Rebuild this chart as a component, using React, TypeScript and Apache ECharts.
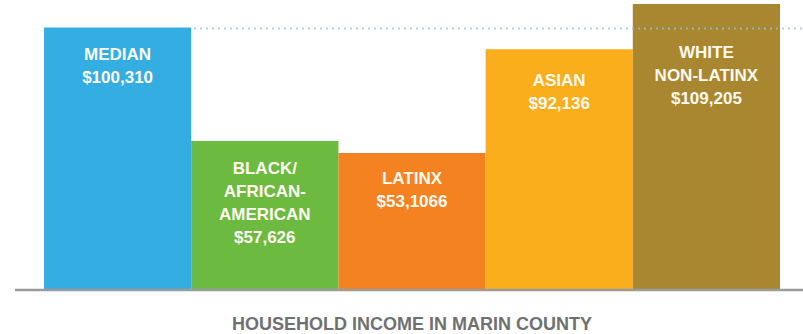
import React, { useEffect, useRef } from "react";
import * as echarts from "echarts";

const categories = ["MEDIAN", "BLACK/\nAFRICAN-\nAMERICAN", "LATINX", "ASIAN", "WHITE\nNON-LATINX"];
const values = [100310, 57626, 53106, 92136, 109205];
const valueLabels = ["$100,310", "$57,626", "$53,1066", "$92,136", "$109,205"];
const colors = ["#34AEE2", "#6DBA40", "#F48220", "#FAAE1B", "#A88730"];
const labelDistances = [15, 16, 14, 20, 37];
const medianValue = 100310;
const chartTitle = "HOUSEHOLD INCOME IN MARIN COUNTY";
const yMin = 1500;
const yMax = 110700;

export default function App() {
  const ref = useRef<HTMLDivElement>(null);
  useEffect(() => {
    if (!ref.current) return;
    const chart = echarts.init(ref.current, undefined, { renderer: "svg" });
    const font = "'Liberation Sans', Arial, Helvetica, sans-serif";
    chart.setOption({
      animation: false,
      grid: { left: 44, right: 23, top: 0, bottom: 44 },
      title: {
        text: chartTitle,
        left: 232,
        top: 315,
        padding: 0,
        textStyle: { fontSize: 18, lineHeight: 18, fontWeight: "bold", color: "#707070", fontFamily: font },
      },
      xAxis: {
        type: "category",
        data: categories,
        axisLine: { show: false },
        axisTick: { show: false },
        axisLabel: { show: false },
        splitLine: { show: false },
      },
      yAxis: {
        type: "value",
        min: yMin,
        max: yMax,
        show: false,
        splitLine: { show: false },
      },
      series: [
        {
          type: "bar",
          barCategoryGap: "0%",
          barGap: "0%",
          data: values.map((v, i) => ({
            value: v,
            itemStyle: { color: colors[i] },
            label: { distance: labelDistances[i] },
          })),
          label: {
            show: true,
            position: "insideTop",
            formatter: (p: any) => categories[p.dataIndex] + "\n" + valueLabels[p.dataIndex],
            color: "#fffaf0",
            fontSize: 17,
            fontWeight: "bold",
            fontFamily: font,
            lineHeight: 23,
            align: "center",
          },
        },
      ],
    });
    const yBase = chart.convertToPixel({ yAxisIndex: 0 }, yMin) as number;
    const yMed = chart.convertToPixel({ yAxisIndex: 0 }, medianValue) as number;
    const x0 = chart.convertToPixel({ xAxisIndex: 0 }, categories[0]) as number;
    const x1 = chart.convertToPixel({ xAxisIndex: 0 }, categories[1]) as number;
    const medEnd = (x0 + x1) / 2;
    chart.setOption({
      graphic: [
        {
          type: "line",
          z: 100,
          shape: { x1: 15, y1: yBase, x2: 803, y2: yBase },
          style: { stroke: "#9b9b9b", lineWidth: 2.5 },
        },
        {
          type: "line",
          z: 100,
          shape: { x1: medEnd + 3, y1: yMed + 1, x2: 803, y2: yMed + 1 },
          style: { stroke: "#86c6e6", lineWidth: 2, lineDash: [1.5, 4.5] },
        },
      ],
    });
    return () => chart.dispose();
  }, []);
  return <div ref={ref} style={{ position: "absolute", left: 0, top: 0, width: 803, height: 334 }} />;
}
